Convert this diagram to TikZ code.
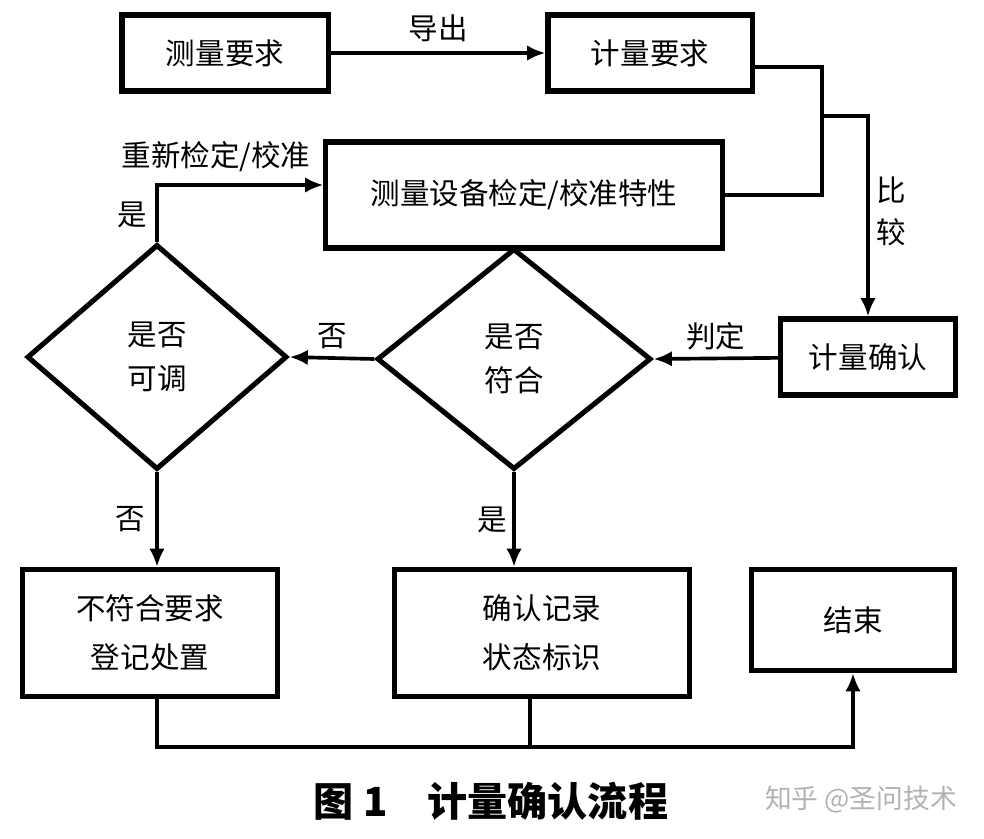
\documentclass[tikz,border=0pt]{standalone}
\usepackage{fontspec}
\setmainfont{Noto Sans CJK SC}
\usetikzlibrary{shapes.geometric,arrows.meta}

\begin{document}
\begin{tikzpicture}[x=0.025cm,y=-0.025cm,
  box/.style={draw,line width=3.6pt,inner sep=0pt,align=center,font=\fontsize{21}{35}\selectfont},
  decide/.style={draw,diamond,line width=3.6pt,inner sep=0pt,align=center,font=\fontsize{21}{35}\selectfont},
  lbl/.style={font=\fontsize{21}{30}\selectfont,inner sep=1pt},
  wire/.style={line width=2.6pt},
  arr/.style={wire,-{Latex[length=13pt,width=11pt]}}]
\useasboundingbox (0,0) rectangle (984,838);
% boxes
\node[box,minimum width=5.15cm,minimum height=1.9cm] (meas) at (225,53) {测量要求};
\node[box,minimum width=5.1cm,minimum height=1.9cm] (req) at (650,53) {计量要求};
\node[box,minimum width=9.9cm,minimum height=2.65cm] (dev) at (524,195) {测量设备检定/校准特性};
\node[box,minimum width=4.375cm,minimum height=1.9cm] (conf) at (868,357) {计量确认};
\node[decide,minimum width=6.85cm,minimum height=5.525cm] (ok) at (514,359) {\raisebox{-4pt}{是否}\\符合};
\node[decide,minimum width=6.5cm,minimum height=5.625cm] (adj) at (157,357) {\raisebox{-4pt}{是否}\\可调};
\node[box,minimum width=6.375cm,minimum height=3.175cm] (fail) at (150,633) {不符合要求\\登记处置};
\node[box,minimum width=7.375cm,minimum height=3.175cm] (rec) at (542,633) {确认记录\\状态标识};
\node[box,minimum width=5.075cm,minimum height=2.525cm] (stop) at (853,620) {结束};
\coordinate (jn) at (822,116);
\coordinate (bus) at (530,747);
% connectors
\draw[arr] (meas) -- node[lbl,above=6pt] (lout) {导出} (req);
\draw[wire] ([yshift=-0.35cm]req.east) -| (jn) |- (dev.east);
\draw[arr] (jn) -| (conf.north);
\node[lbl,align=center] (lcmp) at (891,211) {比\\较};
\draw[arr] (conf) -- node[lbl,above=4pt] (ljud) {判定} (ok.east);
\draw[arr] (ok.west) -- node[lbl,above=4pt] (lno1) {否} (adj.east);
\draw[arr] (adj.north) |- ([yshift=0.25cm]dev.west);
\node[lbl] (lyes1) at (132,215) {是};
\node[lbl] (lagain) at (216,157) {重新检定/校准};
\draw[arr] (adj.south) -- node[lbl,left=6pt] (lno2) {否} (adj.south |- fail.north);
\draw[arr] (ok.south) -- node[lbl,left=3pt] (lyes2) {是} (ok.south |- rec.north);
\draw[wire] (adj.south |- fail.south) |- (bus);
\draw[wire] (bus |- rec.south) -- (bus);
\draw[arr] (bus) -| (stop.south);
% caption
\node[font=\fontsize{28.5}{30}\selectfont\bfseries] (cap) at (491,801) {图 1\quad 计量确认流程};
\node[font=\fontsize{19}{24}\selectfont,text=black!30] (mark) at (861,800) {知乎 @圣问技术};
\end{tikzpicture}
\end{document}
